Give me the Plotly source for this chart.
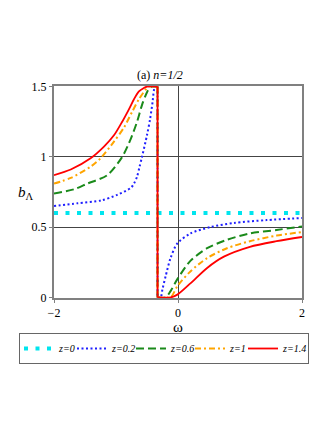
import plotly.graph_objs as go

# z = 0 : constant
x_z0 = [-2, 2]
y_z0 = [0.6, 0.6]

# z = 0.2  (left branch, then right branch)
x_z02_left = [-2, -1.62, -1.24, -0.98, -0.76, -0.71, -0.66, -0.62, -0.58, -0.50, -0.45, -0.41, -0.39, -0.37, -0.33]
y_z02_left = [0.65, 0.67, 0.69, 0.73, 0.78, 0.81, 0.86, 0.93, 1.0, 1.155, 1.27, 1.39, 1.47, 1.5, 1.5]
x_z02_right = [-0.33, -0.28, -0.25, -0.2, -0.12, -0.01, 0.2, 0.52, 0.9, 1.43, 2]
y_z02_right = [0, 0, 0.06, 0.15, 0.28, 0.385, 0.455, 0.50, 0.53, 0.55, 0.565]

# z = 0.6
x_z06_left = [-2, -1.67, -1.46, -1.14, -0.90, -0.76, -0.66, -0.58, -0.50, -0.46, -0.42, -0.33]
y_z06_left = [0.74, 0.77, 0.81, 0.87, 1.0, 1.13, 1.25, 1.37, 1.46, 1.49, 1.5, 1.5]
x_z06_right = [-0.33, -0.2, -0.12, -0.01, 0.2, 0.47, 0.79, 1.16, 1.59, 2]
y_z06_right = [0, 0, 0.045, 0.13, 0.26, 0.35, 0.41, 0.455, 0.48, 0.505]

# z = 1
x_z1_left = [-2, -1.73, -1.41, -1.25, -1.03, -0.87, -0.74, -0.63, -0.52, -0.48, -0.33]
y_z1_left = [0.81, 0.85, 0.93, 0.99, 1.11, 1.21, 1.32, 1.41, 1.48, 1.5, 1.5]
x_z1_right = [-0.33, -0.15, -0.1, -0.01, 0.2, 0.47, 0.79, 1.16, 1.59, 2]
y_z1_right = [0, 0, 0.01, 0.08, 0.185, 0.28, 0.35, 0.40, 0.44, 0.465]

# z = 1.4
x_z14_left = [-2, -1.73, -1.41, -1.19, -1.03, -0.90, -0.79, -0.71, -0.63, -0.55, -0.5, -0.33]
y_z14_left = [0.87, 0.91, 0.99, 1.075, 1.155, 1.25, 1.34, 1.41, 1.465, 1.49, 1.5, 1.5]
x_z14_right = [-0.33, -0.12, -0.01, 0.2, 0.47, 0.74, 1.16, 1.59, 2]
y_z14_right = [0, 0, 0.02, 0.10, 0.21, 0.29, 0.36, 0.40, 0.43]

font = 'Liberation Serif, Times New Roman, serif'
smooth = 0.8


def branch_traces(name, xl, yl, xr, yr, line, legendwidth):
    # left branch, vertical jump, right branch, sharing one legend entry
    curve = dict(line, shape='spline', smoothing=smooth)
    return [
        go.Scatter(x=xl, y=yl, mode='lines', name=name, legendgroup=name,
                   legendwidth=legendwidth, line=curve),
        go.Scatter(x=[xl[-1], xr[0]], y=[yl[-1], yr[0]], mode='lines', name=name,
                   legendgroup=name, showlegend=False, line=line),
        go.Scatter(x=xr, y=yr, mode='lines', name=name, legendgroup=name,
                   showlegend=False, line=curve),
    ]


data = [go.Scatter(x=x_z0, y=y_z0, mode='lines', name='<i>z=0</i>', legendwidth=8,
                   line=dict(color='#00e5ee', width=4, dash='4px,7.5px'))]
data += branch_traces('<i>z=0.2</i>', x_z02_left, y_z02_left, x_z02_right, y_z02_right,
                      dict(color='#1f1fff', width=2, dash='2px,2.5px'), 14)
data += branch_traces('<i>z=0.6</i>', x_z06_left, y_z06_left, x_z06_right, y_z06_right,
                      dict(color='#1a8a1a', width=2, dash='8px,4px'), 14)
data += branch_traces('<i>z=1</i>', x_z1_left, y_z1_left, x_z1_right, y_z1_right,
                      dict(color='#ffa500', width=2, dash='6px,3px,2px,3px'), 8)
data += branch_traces('<i>z=1.4</i>', x_z14_left, y_z14_left, x_z14_right, y_z14_right,
                      dict(color='#ff0000', width=1.8), 20)

# page body has an 8px margin, so the figure is shifted; margins compensate
fig = go.Figure(
    data=data,
    layout=go.Layout(
        width=327,
        height=423,
        margin=dict(l=45, r=33, t=78, b=133),
        paper_bgcolor='white',
        plot_bgcolor='white',
        font=dict(family=font, size=12, color='black'),
        showlegend=True,
        xaxis=dict(
            range=[-2, 2],
            tickvals=[-2, 0, 2],
            ticktext=['\u22122', '0', '2'],
            showgrid=True,
            gridcolor='#444',
            gridwidth=1,
            zeroline=False,
            showline=True,
            linecolor='#808080',
            linewidth=2,
            mirror=True,
            ticks='outside',
            ticklen=3,
            tickcolor='#808080',
        ),
        yaxis=dict(
            range=[-0.004, 1.504],
            tickvals=[0, 0.5, 1, 1.5],
            ticktext=['0', '0.5', '1', '1.5'],
            showgrid=True,
            gridcolor='#444',
            gridwidth=1,
            zeroline=False,
            showline=True,
            linecolor='#808080',
            linewidth=2,
            mirror=True,
            ticks='outside',
            ticklen=3,
            tickcolor='#808080',
        ),
        legend=dict(
            orientation='h',
            xref='paper',
            yref='paper',
            x=(11 - 45) / 249,
            y=(290 - 325) / 212,
            xanchor='left',
            yanchor='top',
            bordercolor='#666',
            borderwidth=1,
            font=dict(family=font, size=10),
            itemwidth=30,
            tracegroupgap=0,
        ),
        annotations=[
            go.layout.Annotation(
                text='(a) <i>n=1/2</i>', showarrow=False,
                xref='paper', yref='paper', x=0.426, y=(298 - 75) / 212,
                xanchor='center', yanchor='middle',
                font=dict(family=font, size=12)),
            go.layout.Annotation(
                text='<i>b</i><sub>\u039b</sub>', showarrow=False,
                xref='paper', yref='paper', x=(25 - 53) / 249, y=0.495,
                xanchor='center', yanchor='middle',
                font=dict(family=font, size=15)),
            go.layout.Annotation(
                text='\u03c9', showarrow=False,
                xref='paper', yref='paper', x=0.5, y=(298 - 327) / 212,
                xanchor='center', yanchor='middle',
                font=dict(family=font, size=15)),
        ],
    )
)

fig.write_html("out.html")
